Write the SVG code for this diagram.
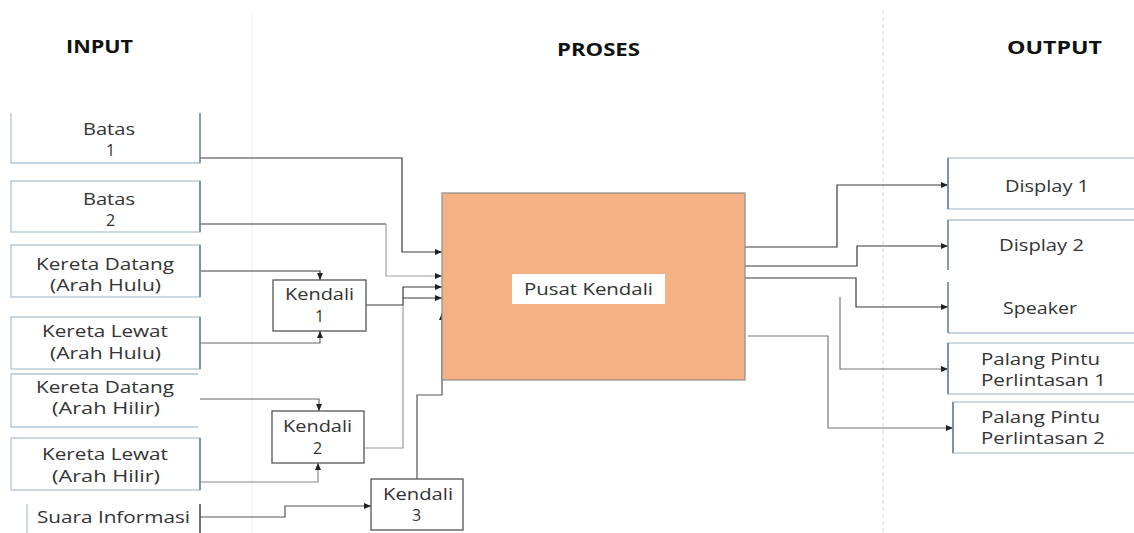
<svg xmlns="http://www.w3.org/2000/svg" width="1134" height="533" viewBox="0 0 1134 533">
<style>
  .t{font-family:"Open Sans","Liberation Sans",sans-serif;font-size:16px;fill:#333}
  .h{font-family:"Open Sans","Liberation Sans",sans-serif;font-size:17px;font-weight:bold;fill:#111}
  .bx{fill:#fff;stroke:#b4c3d2;stroke-width:1.3}
  .ed{stroke:#5d7e9e;stroke-width:1.5;fill:none}
  .lt{stroke:#b4c3d2;stroke-width:1.3;fill:none}
  .kb{fill:#fff;stroke:#555;stroke-width:1.3}
  .c{fill:none;stroke:#3a3a3a;stroke-width:1.2;marker-end:url(#ah)}
  .cl{fill:none;stroke:#9a9a9a;stroke-width:1.2}
  .cn{fill:none;stroke:#3a3a3a;stroke-width:1.2}
</style>
<defs>
  <marker id="ah" markerWidth="8" markerHeight="6" refX="7" refY="3" orient="auto" markerUnits="userSpaceOnUse">
    <path d="M0,0 L7,3 L0,6 z" fill="#222"/>
  </marker>
</defs>
<rect width="1134" height="533" fill="#fff"/>
<g id="dividers">
  <line x1="252" y1="10" x2="252" y2="533" stroke="#f1f1f1" stroke-width="1"/>
  <line x1="883" y1="10" x2="883" y2="533" stroke="#d8d8d8" stroke-width="1" stroke-dasharray="4 3"/>
</g>
<g id="headings">
  <text class="h" x="66" y="53" textLength="67" lengthAdjust="spacingAndGlyphs">INPUT</text>
  <text class="h" x="557" y="56" textLength="83" lengthAdjust="spacingAndGlyphs">PROSES</text>
  <text class="h" x="1007" y="54" textLength="95" lengthAdjust="spacingAndGlyphs">OUTPUT</text>
</g>
<g id="connectors">
  <path class="c" d="M200 158 H402 V252 H442"/>
  <path class="cn" d="M200 224 H386"/>
  <path class="c" style="stroke:#a0a0a0" d="M386 224 V276 H442"/>
  <path class="c" d="M200 271 H320 V280"/>
  <path class="c" style="stroke:#666" d="M200 343 H320 V331"/>
  <path class="c" d="M366 305 H403 V287 H442"/>
  <path class="c" d="M403 298 H442"/>
  <path class="cl" d="M364 448 H403 V305"/>
  <path class="c" style="stroke:#555" d="M417 479 V395 H442 V313"/>
  <path class="c" style="stroke:#666" d="M200 399 H319 V411"/>
  <path class="c" style="stroke:#888" d="M200 482 H318 V463"/>
  <path class="c" style="stroke:#555" d="M200 517 H285 V506 H371"/>
  <path class="c" d="M745 247 H837 V185 H948"/>
  <path class="c" d="M745 266 H857 V246 H948"/>
  <path class="c" d="M745 278 H856 V307 H948"/>
  <path class="c" style="stroke:#777" d="M840 297 V369 H948"/>
  <path class="c" style="stroke:#777" d="M748 336 H828 V428 H953"/>
</g>
<g id="batas1">
  <path class="lt" d="M11 113 V163 H200"/>
  <path class="ed" d="M200 113 V163"/>
  <text class="t" x="83" y="135" textLength="52" lengthAdjust="spacingAndGlyphs">Batas</text>
  <text class="t" x="106" y="156">1</text>
</g>
<g id="batas2">
  <rect class="bx" x="11" y="181" width="189" height="51"/>
  <path class="ed" d="M200 181 V232"/>
  <text class="t" x="83" y="205" textLength="52" lengthAdjust="spacingAndGlyphs">Batas</text>
  <text class="t" x="106" y="226">2</text>
</g>
<g id="kd-hulu">
  <rect class="bx" x="11" y="245" width="189" height="52"/>
  <path class="ed" d="M200 245 V297"/>
  <text class="t" x="36" y="270" textLength="138" lengthAdjust="spacingAndGlyphs">Kereta Datang</text>
  <text class="t" x="50" y="291" textLength="111" lengthAdjust="spacingAndGlyphs">(Arah Hulu)</text>
</g>
<g id="kl-hulu">
  <rect class="bx" x="11" y="317" width="189" height="52"/>
  <path class="ed" d="M200 317 V369"/>
  <text class="t" x="42" y="337" textLength="126" lengthAdjust="spacingAndGlyphs">Kereta Lewat</text>
  <text class="t" x="50" y="359" textLength="111" lengthAdjust="spacingAndGlyphs">(Arah Hulu)</text>
</g>
<g id="kd-hilir">
  <path class="lt" d="M198 374 H11 V427 H198"/>
  <text class="t" x="36" y="393" textLength="138" lengthAdjust="spacingAndGlyphs">Kereta Datang</text>
  <text class="t" x="52" y="414" textLength="108" lengthAdjust="spacingAndGlyphs">(Arah Hilir)</text>
</g>
<g id="kl-hilir">
  <rect class="bx" x="11" y="438" width="189" height="52"/>
  <path class="ed" d="M200 438 V490"/>
  <text class="t" x="42" y="460" textLength="126" lengthAdjust="spacingAndGlyphs">Kereta Lewat</text>
  <text class="t" x="52" y="482" textLength="108" lengthAdjust="spacingAndGlyphs">(Arah Hilir)</text>
</g>
<g id="suara">
  <path class="lt" d="M27 504 V533"/>
  <path class="ed" style="stroke:#444" d="M200 504 V533"/>
  <text class="t" x="37" y="523" textLength="153" lengthAdjust="spacingAndGlyphs">Suara Informasi</text>
</g>
<g id="kendali1">
  <rect class="kb" x="273" y="280" width="93" height="51"/>
  <text class="t" x="285" y="300" textLength="69" lengthAdjust="spacingAndGlyphs">Kendali</text>
  <text class="t" x="315" y="322">1</text>
</g>
<g id="kendali2">
  <rect class="kb" x="272" y="411" width="92" height="52"/>
  <text class="t" x="283" y="432" textLength="69" lengthAdjust="spacingAndGlyphs">Kendali</text>
  <text class="t" x="313" y="454">2</text>
</g>
<g id="kendali3">
  <rect class="kb" x="371" y="479" width="92" height="51"/>
  <text class="t" x="383" y="500" textLength="70" lengthAdjust="spacingAndGlyphs">Kendali</text>
  <text class="t" x="412" y="521">3</text>
</g>
<g id="pusat">
  <rect x="442" y="193" width="303" height="187" fill="#F4B183" stroke="#8c8c8c" stroke-width="1.2"/>
  <rect x="512" y="274" width="153" height="30" fill="#fff"/>
  <text class="t" x="524" y="295" textLength="129" lengthAdjust="spacingAndGlyphs">Pusat Kendali</text>
</g>
<g id="display1">
  <rect class="bx" x="948" y="158" width="200" height="51"/>
  <path class="ed" d="M948 158 V209"/>
  <text class="t" x="1005" y="192" textLength="84" lengthAdjust="spacingAndGlyphs">Display 1</text>
</g>
<g id="display2">
  <path class="lt" d="M948 220 H1134"/>
  <path class="ed" d="M948 220 V270"/>
  <text class="t" x="999" y="251" textLength="85" lengthAdjust="spacingAndGlyphs">Display 2</text>
</g>
<g id="speaker">
  <path class="lt" d="M948 333 H1134"/>
  <path class="ed" d="M948 282 V333"/>
  <text class="t" x="1003" y="314" textLength="74" lengthAdjust="spacingAndGlyphs">Speaker</text>
</g>
<g id="palang1">
  <rect class="bx" x="948" y="343" width="200" height="51"/>
  <path class="ed" d="M948 343 V394"/>
  <text class="t" x="981" y="365" textLength="119" lengthAdjust="spacingAndGlyphs">Palang Pintu</text>
  <text class="t" x="981" y="386" textLength="125" lengthAdjust="spacingAndGlyphs">Perlintasan 1</text>
</g>
<g id="palang2">
  <rect class="bx" x="953" y="402" width="200" height="51"/>
  <path class="ed" d="M953 402 V453"/>
  <text class="t" x="981" y="423" textLength="119" lengthAdjust="spacingAndGlyphs">Palang Pintu</text>
  <text class="t" x="981" y="444" textLength="124" lengthAdjust="spacingAndGlyphs">Perlintasan 2</text>
</g>
</svg>
